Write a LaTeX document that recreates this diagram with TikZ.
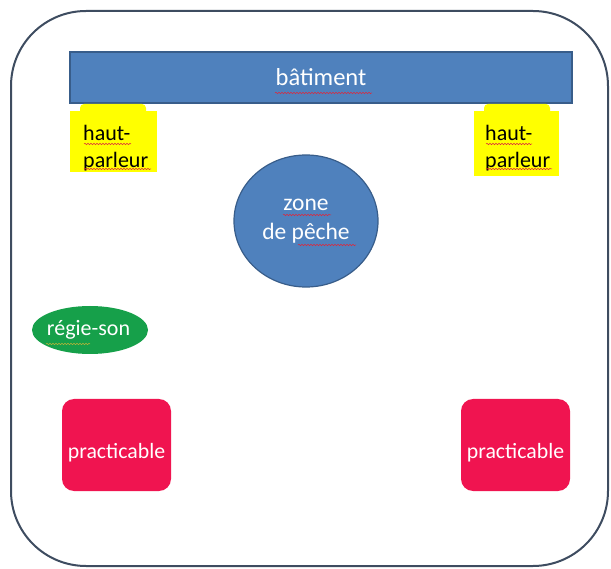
\documentclass[tikz,border=0pt]{standalone}
\usepackage{fontspec}
\setmainfont{Carlito}
\usetikzlibrary{decorations.pathmorphing,shapes.geometric}
\definecolor{framec}{RGB}{62,76,96}
\definecolor{bluefill}{RGB}{79,129,189}
\definecolor{blueline}{RGB}{56,93,138}
\definecolor{spk}{RGB}{255,255,0}
\definecolor{greenfill}{RGB}{22,160,74}
\definecolor{redfill}{RGB}{240,20,80}
\definecolor{squig}{RGB}{220,40,60}
\tikzset{
  bluebox/.style={draw=blueline, fill=bluefill, line width=1.2pt, text=white, font=\fontsize{24.5}{28}\selectfont, inner sep=0pt},
  spkbox/.style={fill=spk, text=black, font=\fontsize{22}{27}\selectfont, align=left, inner sep=0pt, anchor=north west},
  spktab/.style={fill=spk, rounded corners=4pt},
  regie/.style={ellipse, fill=greenfill, text=white, font=\fontsize{22}{25}\selectfont, inner sep=0pt},
  pract/.style={fill=redfill, rounded corners=12pt, minimum width=109pt, minimum height=92pt, inner sep=0pt},
  practxt/.style={text=white, font=\fontsize{21.8}{24}\selectfont, inner sep=0pt},
  wavy/.style={squig, line width=0.5pt, decorate, decoration={snake, amplitude=0.7pt, segment length=3pt}}
}
\begin{document}
\begin{tikzpicture}[x=1pt,y=-1pt]
\useasboundingbox (0,0) rectangle (611,569);
% outer frame
\draw[framec, line width=2pt, rounded corners=75pt] (11,11) rectangle (608,566);
% building
\node[bluebox, minimum width=502pt, minimum height=51pt] (bat) at (321,77.5) {bâtiment};
% speakers
\fill[spktab] (80,104) rectangle (146,116);
\path[fill=spk] (70,111) rectangle (157,172);
\node[spkbox] (hp1) at (83,125) {haut-\\parleur};
\fill[spktab] (484,104) rectangle (550,116);
\path[fill=spk] (474,111) rectangle (559,176);
\node[spkbox] (hp2) at (485,125) {haut-\\parleur};
% fishing zone
\node[bluebox, ellipse, minimum width=144pt, minimum height=132pt, align=center, font=\fontsize{23.5}{29}\selectfont] (zone) at (306,221) {zone\\de pêche};
% sound control
\node[regie, minimum width=116pt, minimum height=48pt] (reg) at (90,330) {\hspace*{-3pt}régie-son};
% platforms
\node[pract] (p1) at (116.5,445) {};
\node[practxt] (t1) at ([yshift=-8pt]p1.center) {practicable};
\node[pract] (p2) at (515.5,445) {};
\node[practxt] (t2) at ([yshift=-8pt]p2.center) {practicable};
% spell-check underlines
\draw[wavy] (275,93) -- (372,93);
\draw[wavy] (84,144) -- (131,144);
\draw[wavy] (84,169) -- (151,169);
\draw[wavy] (486,144) -- (532,144);
\draw[wavy] (486,169) -- (552,169);
\draw[wavy] (283,215) -- (331,215);
\draw[wavy] (298,245) -- (356,245);
\draw[wavy, draw=yellow!70!black] (46,344) -- (90,344);
\end{tikzpicture}
\end{document}
